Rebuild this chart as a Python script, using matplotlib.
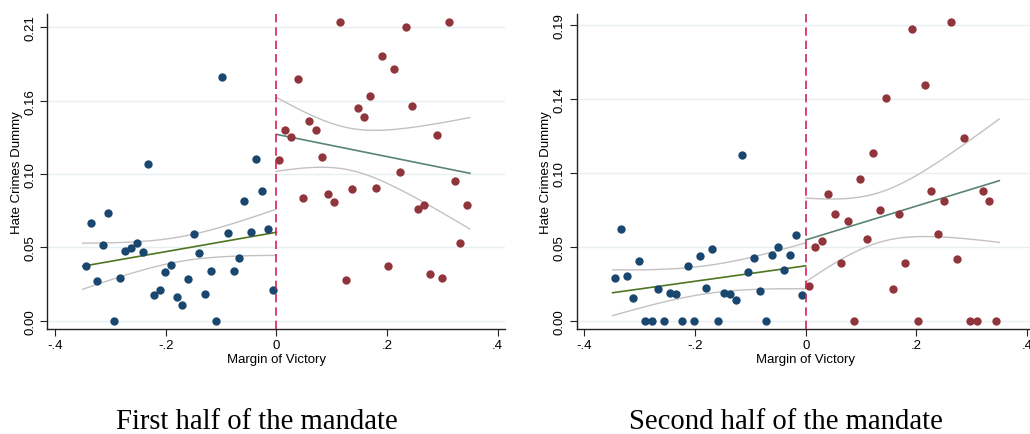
import numpy as np
import matplotlib
matplotlib.use("Agg")
import matplotlib.pyplot as plt

plt.rcParams['font.family'] = ['Liberation Sans', 'DejaVu Sans']

# binned means, first half of the mandate
h1_x_lose = [-0.3447, -0.3351, -0.3242, -0.3134, -0.3038, -0.2935, -0.2832, -0.2731, -0.2622,
             -0.2525, -0.2416, -0.2315, -0.2212, -0.2109, -0.2007, -0.1904, -0.1801, -0.1700,
             -0.1597, -0.1494, -0.1392, -0.1289, -0.1186, -0.1085, -0.0977, -0.0873, -0.0770,
             -0.0669, -0.0578, -0.0463, -0.0360, -0.0259, -0.0150, -0.0054]
h1_y_lose = [0.0394, 0.0697, 0.0286, 0.0540, 0.0769, 0.0000, 0.0303, 0.0499, 0.0518,
             0.0554, 0.0492, 0.1122, 0.0184, 0.0222, 0.0351, 0.0399, 0.0170, 0.0110,
             0.0298, 0.0618, 0.0482, 0.0193, 0.0354, 0.0000, 0.1747, 0.0630, 0.0354,
             0.0449, 0.0855, 0.0637, 0.1158, 0.0926, 0.0659, 0.0222]
h1_x_win = [0.0054, 0.0163, 0.0271, 0.0387, 0.0488, 0.0597, 0.0712, 0.0821, 0.0929, 0.1038,
            0.1146, 0.1255, 0.1369, 0.1472, 0.1586, 0.1694, 0.1803, 0.1911, 0.2025, 0.2134,
            0.2242, 0.2351, 0.2459, 0.2568, 0.2671, 0.2785, 0.2900, 0.3002, 0.3117, 0.3225,
            0.3327, 0.3443]
h1_y_win = [0.1152, 0.1367, 0.1315, 0.1728, 0.0878, 0.1427, 0.1367, 0.1170, 0.0907, 0.0847,
            0.2140, 0.0293, 0.0945, 0.1520, 0.1460, 0.1606, 0.0952, 0.1895, 0.0389, 0.1800,
            0.1062, 0.2102, 0.1537, 0.0800, 0.0830, 0.0332, 0.1331, 0.0303, 0.2140, 0.0998,
            0.0554, 0.0830]

# binned means, second half of the mandate
h2_x_lose = [-0.3440, -0.3331, -0.3223, -0.3115, -0.3007, -0.2898, -0.2783, -0.2674, -0.2566,
             -0.2458, -0.2349, -0.2240, -0.2132, -0.2023, -0.1910, -0.1801, -0.1693, -0.1584,
             -0.1476, -0.1368, -0.1259, -0.1145, -0.1037, -0.0929, -0.0820, -0.0712, -0.0603,
             -0.0495, -0.0387, -0.0278, -0.0170, -0.0061]
h2_y_lose = [0.0276, 0.0587, 0.0285, 0.0144, 0.0384, 0.0000, 0.0000, 0.0206, 0.0000,
             0.0176, 0.0172, 0.0000, 0.0350, 0.0000, 0.0416, 0.0212, 0.0461, 0.0000,
             0.0176, 0.0172, 0.0131, 0.1063, 0.0311, 0.0403, 0.0191, 0.0000, 0.0420,
             0.0476, 0.0328, 0.0424, 0.0549, 0.0163]
h2_x_win = [0.0060, 0.0173, 0.0289, 0.0408, 0.0529, 0.0638, 0.0759, 0.0878, 0.0987, 0.1102,
            0.1222, 0.1337, 0.1456, 0.1572, 0.1686, 0.1799, 0.1920, 0.2034, 0.2155, 0.2269,
            0.2390, 0.2499, 0.2620, 0.2739, 0.2855, 0.2968, 0.3089, 0.3198, 0.3312, 0.3433]
h2_y_win = [0.0223, 0.0476, 0.0514, 0.0816, 0.0688, 0.0369, 0.0643, 0.0000, 0.0909, 0.0525,
            0.1076, 0.0713, 0.1429, 0.0204, 0.0688, 0.0369, 0.1873, 0.0000, 0.1515, 0.0832,
            0.0557, 0.0769, 0.1922, 0.0398, 0.1176, 0.0000, 0.0000, 0.0832, 0.0769, 0.0000]

# linear fits on each side of the cutoff:
# (x_from, x_to, intercept, slope, ci_center, ci_halfwidth_min, ci_spread)
h1_fit_lose = (-0.350, 0.0, 0.0633, 0.0694, -0.175, 0.0088, 0.0798)
h1_fit_win = (0.0, 0.350, 0.1334, -0.0797, 0.130, 0.0150, 0.168)
h2_fit_lose = (-0.349, 0.0, 0.0353, 0.0496, -0.175, 0.0090, 0.067)
h2_fit_win = (0.0, 0.350, 0.0519, 0.1089, 0.131, 0.0160, 0.1656)

h1_ymax = 0.21
h1_yticklabels = ['0.00', '0.05', '0.10', '0.16', '0.21']
h2_ymax = 0.19
h2_yticklabels = ['0.00', '0.05', '0.10', '0.14', '0.19']

xticks = [-0.4, -0.2, 0.0, 0.2, 0.4]
xticklabels = ['-.4', '-.2', '0', '.2', '.4']

captions = ['First half of the mandate', 'Second half of the mandate']

NAVY = '#1a476f'
MAROON = '#90353b'
OLIVE = '#4f7522'
TEAL = '#5a8474'
CI_GRAY = '#c2c2c2'
CUTOFF = '#d42352'
GRID = '#e8eff1'


def draw_fit(ax, fit, color):
    x0, x1, a, b, xm, h0, k = fit
    xs = np.linspace(x0, x1, 100)
    yhat = a + b * xs
    half = np.sqrt(h0 ** 2 + (k * (xs - xm)) ** 2)
    ax.plot(xs, yhat + half, color=CI_GRAY, lw=1.0, zorder=2)
    ax.plot(xs, yhat - half, color=CI_GRAY, lw=1.0, zorder=2)
    ax.plot(xs, yhat, color=color, lw=1.2, zorder=3)


def rd_panel(ax, x_lose, y_lose, x_win, y_win, fit_lose, fit_win, ymax, ylabels, ylim):
    ax.scatter(x_lose, y_lose, s=36, color=NAVY, lw=0, zorder=4)
    ax.scatter(x_win, y_win, s=36, color=MAROON, lw=0, zorder=4)
    draw_fit(ax, fit_lose, OLIVE)
    draw_fit(ax, fit_win, TEAL)
    ax.axvline(0, color=CUTOFF, lw=1.2, dashes=(5, 3), zorder=5)

    yt = np.linspace(0, ymax, 5)
    ax.set_yticks(yt)
    ax.set_yticklabels(ylabels, rotation=90, va='center')
    ax.set_xticks(xticks)
    ax.set_xticklabels(xticklabels)
    ax.set_xlim(-0.414, 0.414)
    ax.set_ylim(*ylim)
    for y in yt:
        ax.axhline(y, color=GRID, lw=1.0, zorder=0)

    for s in ['top', 'right']:
        ax.spines[s].set_visible(False)
    for s in ['left', 'bottom']:
        ax.spines[s].set_color('#222222')
        ax.spines[s].set_linewidth(1.0)
    ax.tick_params(axis='both', direction='out', length=5, width=0.8,
                   labelsize=9.5, pad=2, color='#222222')
    ax.tick_params(axis='y', pad=3)
    ax.set_xlabel('Margin of Victory', fontsize=9.5, labelpad=2)
    ax.set_ylabel('Hate Crimes Dummy', fontsize=9.5, labelpad=1)


fig = plt.figure(figsize=(10.30, 4.35), dpi=100)
ax1 = fig.add_axes([0.0459, 0.2414, 0.4447, 0.7248])
ax2 = fig.add_axes([0.5599, 0.2414, 0.4447, 0.7248])

rd_panel(ax1, h1_x_lose, h1_y_lose, h1_x_win, h1_y_win, h1_fit_lose, h1_fit_win,
         h1_ymax, h1_yticklabels, (-0.0059, 0.2197))
rd_panel(ax2, h2_x_lose, h2_y_lose, h2_x_win, h2_y_win, h2_fit_lose, h2_fit_win,
         h2_ymax, h2_yticklabels, (-0.0053, 0.1973))

fig.text(0.249, 0.013, captions[0], ha='center', va='baseline',
         family='Liberation Serif', fontsize=20.6)
fig.text(0.763, 0.013, captions[1], ha='center', va='baseline',
         family='Liberation Serif', fontsize=20.6)

fig.savefig('out.png', dpi=100)
